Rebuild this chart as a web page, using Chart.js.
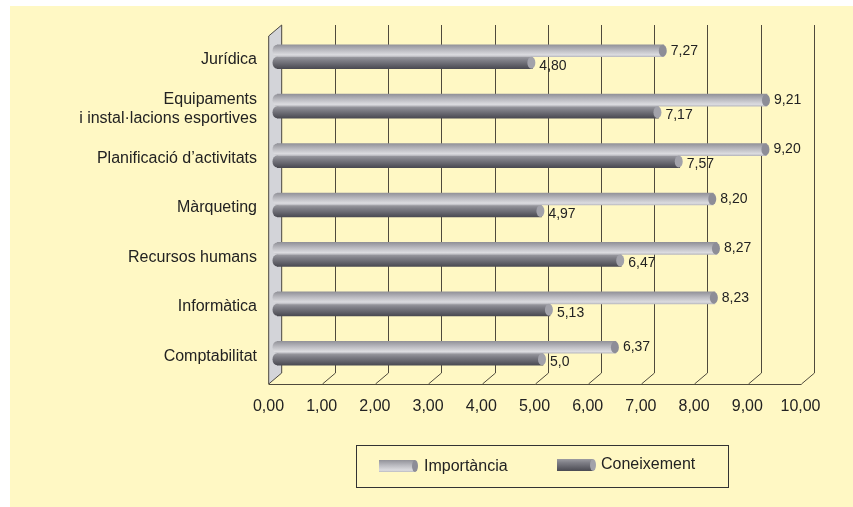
<!DOCTYPE html>
<html>
<head>
<meta charset="utf-8">
<script src="https://cdn.jsdelivr.net/npm/chart.js@4"></script>
<style>
  html, body { margin: 0; padding: 0; background: #fff; }
  #wrap { width: 853px; height: 507px; }
</style>
</head>
<body>
<div id="wrap"><canvas id="chart" width="853" height="507"></canvas></div>
<script>
const categories = [
  "Jurídica",
  ["Equipaments", "i instal·lacions esportives"],
  "Planificació d’activitats",
  "Màrqueting",
  "Recursos humans",
  "Informàtica",
  "Comptabilitat",
];
const seriesNames = ["Importància", "Coneixement"];
const importancia = [7.27, 9.21, 9.2, 8.2, 8.27, 8.23, 6.37];
const coneixement = [4.8, 7.17, 7.57, 4.97, 6.47, 5.13, 5.0];
const coneixementDecimals = [2, 2, 2, 2, 2, 2, 1];
const xTickLabels = ["0,00", "1,00", "2,00", "3,00", "4,00", "5,00", "6,00", "7,00", "8,00", "9,00", "10,00"];

const FONT = "'Liberation Sans', Arial, Helvetica, sans-serif";
const TEXT = "#222222";
const BAR_H = 12;
const DEPTH_X = 13;
const DEPTH_Y = 11;

function fmt(v, dec) {
  return v.toFixed(dec).replace(".", ",");
}

function barGradient(ctx, yTop, which) {
  const g = ctx.createLinearGradient(0, yTop, 0, yTop + BAR_H);
  if (which === 0) {
    g.addColorStop(0, "#929299");
    g.addColorStop(0.45, "#bbbbc1");
    g.addColorStop(0.85, "#dcdce0");
    g.addColorStop(1, "#babac0");
  } else {
    g.addColorStop(0, "#9c9ca2");
    g.addColorStop(0.3, "#7f7f87");
    g.addColorStop(1, "#4a4a52");
  }
  return g;
}

const capColors = ["#8d8d97", "#a2a2aa"];
const flatColors = ["#bdbdc3", "#7f7f87"];

const frame = {
  id: "frame",
  beforeDraw(chart) {
    const ctx = chart.ctx;
    ctx.save();
    ctx.fillStyle = "#ffffff";
    ctx.fillRect(0, 0, chart.width, chart.height);
    ctx.fillStyle = "#fff8c4";
    ctx.fillRect(10, 6, chart.width - 10, chart.height - 6);
    ctx.restore();
  },
  beforeDatasetsDraw(chart) {
    const ctx = chart.ctx;
    const x = chart.scales.x;
    const area = chart.chartArea;
    const back = (v) => x.getPixelForValue(v) + 4.7;
    const top = area.top - 7;
    const floor = area.bottom - 5;
    ctx.save();
    // left wall
    ctx.beginPath();
    ctx.moveTo(back(0) - DEPTH_X, top + DEPTH_Y);
    ctx.lineTo(back(0), top);
    ctx.lineTo(back(0), floor);
    ctx.lineTo(back(0) - DEPTH_X, floor + DEPTH_Y);
    ctx.closePath();
    ctx.fillStyle = "#d3d4d9";
    ctx.fill();
    ctx.strokeStyle = "#4a4740";
    ctx.lineWidth = 1;
    ctx.stroke();
    // back grid lines and floor
    ctx.strokeStyle = "#4f4a3c";
    for (let v = 1; v <= 10; v++) {
      const bx = Math.round(back(v)) + 0.5;
      ctx.beginPath();
      ctx.moveTo(bx, top);
      ctx.lineTo(bx, floor);
      ctx.lineTo(bx - DEPTH_X, floor + DEPTH_Y);
      ctx.stroke();
    }
    ctx.beginPath();
    ctx.moveTo(back(0) - DEPTH_X, Math.round(floor + DEPTH_Y) + 0.5);
    ctx.lineTo(Math.round(back(10)) + 0.5 - DEPTH_X, Math.round(floor + DEPTH_Y) + 0.5);
    ctx.stroke();
    ctx.restore();

    // cylinder shading for the bars
    [0, 1].forEach((d) => {
      chart.getDatasetMeta(d).data.forEach((bar) => {
        const g = barGradient(ctx, bar.y - BAR_H / 2, d);
        bar.options = Object.assign({}, bar.options, { backgroundColor: g });
      });
    });
  },
  afterDatasetsDraw(chart) {
    const ctx = chart.ctx;
    ctx.save();
    [0, 1].forEach((d) => {
      const meta = chart.getDatasetMeta(d);
      const values = d === 0 ? importancia : coneixement;
      meta.data.forEach((bar, i) => {
        const yc = bar.y;
        ctx.fillStyle = barGradient(ctx, yc - BAR_H / 2, d);
        ctx.beginPath();
        ctx.ellipse(bar.base, yc, 4.5, BAR_H / 2, 0, 0, Math.PI * 2);
        ctx.fill();
        ctx.fillStyle = capColors[d];
        ctx.beginPath();
        ctx.ellipse(bar.x - 1, yc, 4, BAR_H / 2, 0, 0, Math.PI * 2);
        ctx.fill();
        ctx.fillStyle = TEXT;
        ctx.font = "14px " + FONT;
        ctx.textAlign = "left";
        ctx.textBaseline = "middle";
        const dec = d === 0 ? 2 : coneixementDecimals[i];
        ctx.fillText(fmt(values[i], dec), bar.x + 7, yc + (d === 1 ? 3 : 0));
      });
    });
    ctx.restore();
  },
  afterDraw(chart) {
    const ctx = chart.ctx;
    ctx.save();
    ctx.strokeStyle = "#333333";
    ctx.lineWidth = 1;
    ctx.strokeRect(356.5, 445.5, 372, 42);
    const items = [
      { x: 379, y: 460, tx: 424, ty: 467 },
      { x: 557, y: 459, tx: 601, ty: 465 },
    ];
    items.forEach((it, d) => {
      ctx.fillStyle = barGradient(ctx, it.y, d);
      ctx.fillRect(it.x, it.y, 36, BAR_H);
      ctx.fillStyle = capColors[d];
      ctx.beginPath();
      ctx.ellipse(it.x + 36, it.y + BAR_H / 2, 3, BAR_H / 2, 0, 0, Math.PI * 2);
      ctx.fill();
      ctx.fillStyle = TEXT;
      ctx.font = "16px " + FONT;
      ctx.textAlign = "left";
      ctx.textBaseline = "middle";
      ctx.fillText(seriesNames[d], it.tx, it.ty);
    });
    ctx.restore();
  },
};

new Chart(document.getElementById("chart"), {
  type: "bar",
  data: {
    labels: categories,
    datasets: [
      {
        label: seriesNames[0],
        data: importancia,
        barThickness: BAR_H,
        borderWidth: 0,
        backgroundColor: flatColors[0],
      },
      {
        label: seriesNames[1],
        data: coneixement,
        barThickness: BAR_H,
        borderWidth: 0,
        backgroundColor: flatColors[1],
      },
    ],
  },
  options: {
    indexAxis: "y",
    responsive: false,
    animation: false,
    events: [],
    layout: {
      padding: { top: 32, right: 44, bottom: 0, left: 0 },
    },
    scales: {
      x: {
        min: 0,
        max: 10,
        afterFit: function (s) {
          s.height = 129;
        },
        ticks: {
          stepSize: 1,
          autoSkip: false,
          maxRotation: 0,
          labelOffset: -8.5,
          padding: 19,
          color: TEXT,
          font: { family: FONT, size: 16 },
          callback: function (value, index) {
            return xTickLabels[index];
          },
        },
        grid: { display: false, drawTicks: false },
        border: { display: false },
      },
      y: {
        afterFit: function (s) {
          s.width = 277;
        },
        ticks: {
          padding: 20,
          labelOffset: 3,
          color: TEXT,
          font: { family: FONT, size: 16 },
        },
        grid: { display: false, drawTicks: false },
        border: { display: false },
      },
    },
    plugins: {
      legend: { display: false },
      tooltip: { enabled: false },
    },
  },
  plugins: [frame],
});
</script>
</body>
</html>
